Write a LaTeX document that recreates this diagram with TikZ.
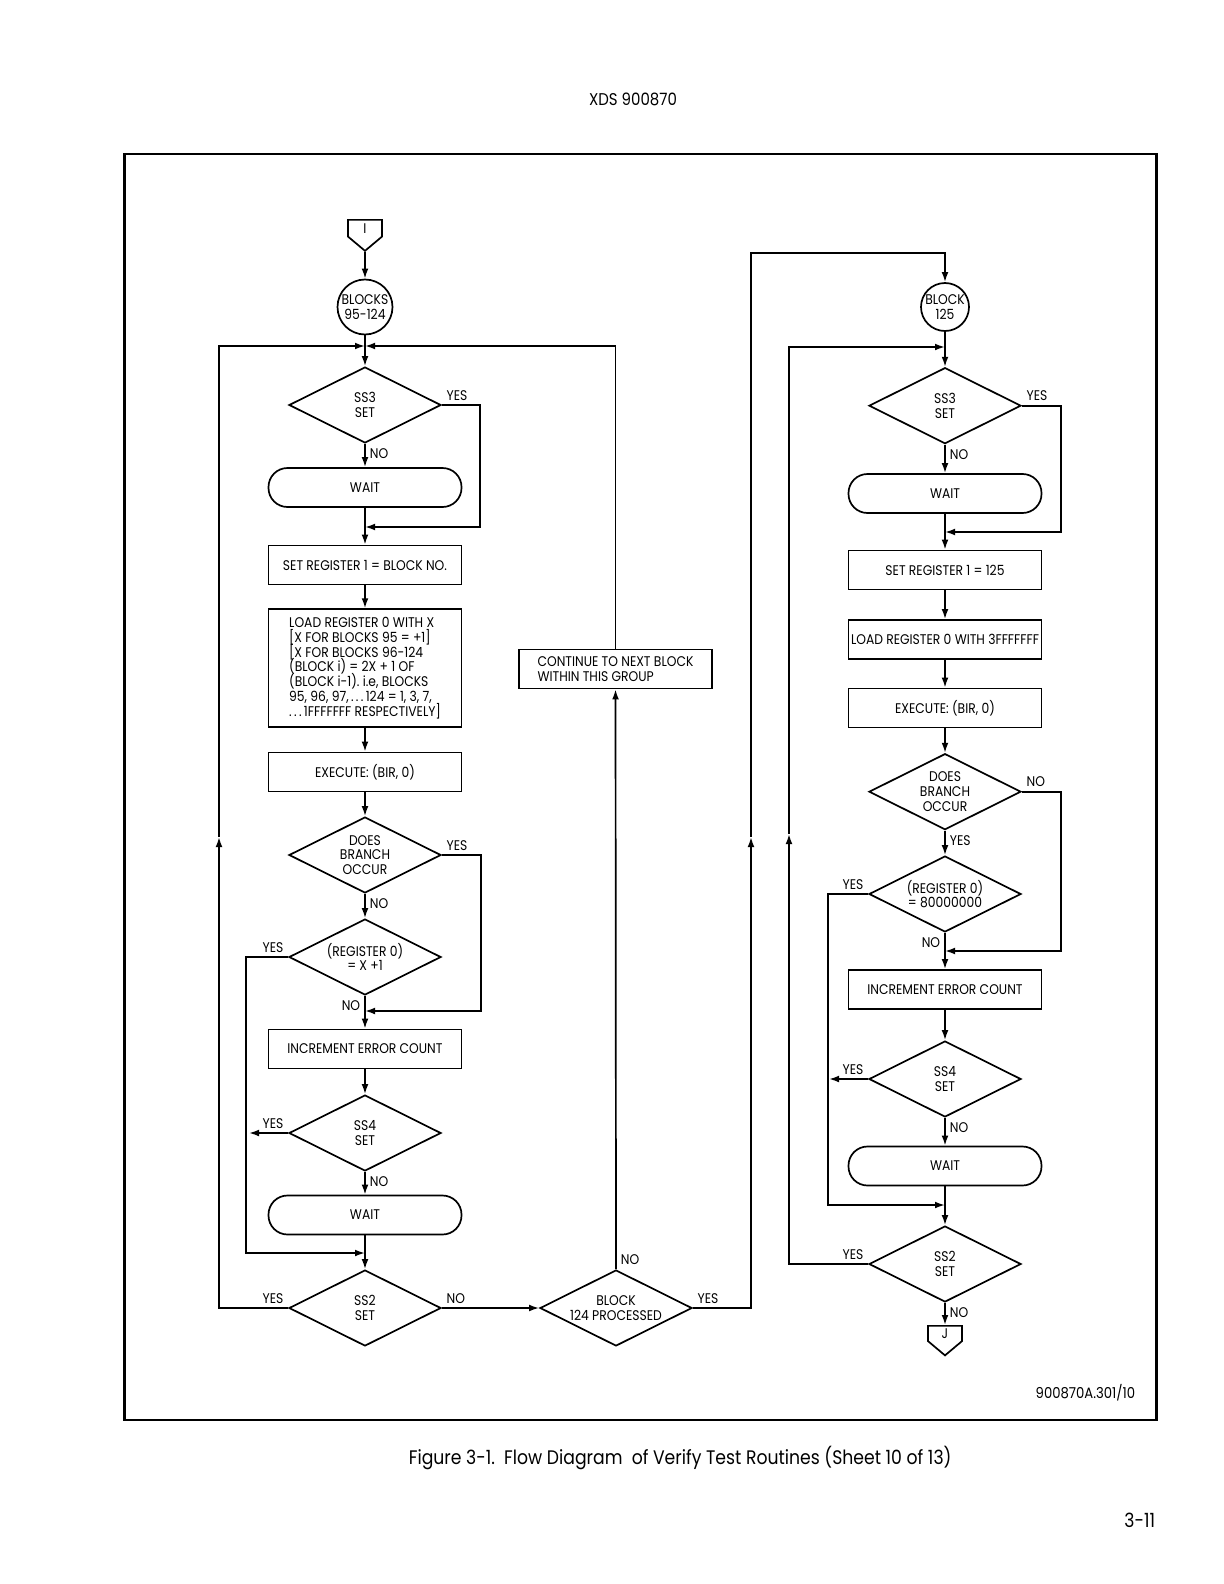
\documentclass[tikz,border=0pt]{standalone}
\usepackage{fontspec}
\setmainfont{Poppins}[FakeStretch=0.88]
\usepackage{tikz}
\usetikzlibrary{positioning,shapes.geometric,shapes.symbols,arrows.meta}

\newcommand{\chartfont}{\fontsize{7}{7.4}\selectfont}
\newcommand{\titlefont}{\fontsize{8.5}{10}\selectfont}
\newcommand{\capfont}{\fontsize{9.8}{11}\selectfont}

\begin{document}
\begin{tikzpicture}[x=0.5pt,y=-0.5pt,line width=0.85pt,
	box/.style={rectangle,draw,minimum width=96.5pt,minimum height=19.5pt,inner sep=3pt,font=\chartfont,align=center},
	wait/.style={rectangle,rounded corners=9.5pt,draw,minimum width=96.5pt,minimum height=19.5pt,font=\chartfont},
	decision/.style={diamond,draw,aspect=2,minimum width=76pt,minimum height=38pt,inner sep=0pt,align=center,font=\chartfont},
	blockno/.style={circle,draw,inner sep=0pt,align=center,font=\chartfont},
	offpage/.style={signal,signal to=south,signal pointer angle=100,draw,minimum width=17pt,minimum height=9pt,inner sep=0pt,anchor=north,font=\chartfont},
	yn/.style={font=\chartfont,inner sep=2pt},
	flow/.style={-{Latex[length=5pt,width=3.4pt]}}]

	\useasboundingbox (0,0) rectangle (1224,1584);
	\fill[white] (0,0) rectangle (1224,1584);

	\node[font=\titlefont] (head) at (633,99) {XDS 900870};
	\draw[line width=1.4pt] (124.5,154) rectangle (1156.5,1420);
	\node[font=\fontsize{7.5}{8}\selectfont,anchor=east,inner sep=0pt] (dwgno) at (1136,1393) {900870A.301/10};
	\node[font=\capfont,anchor=west,inner sep=0pt] (caption) at (408,1458) {Figure 3-1.\ \ Flow Diagram\ \ of Verify Test Routines (Sheet 10 of 13)};
	\node[font=\capfont,anchor=east,inner sep=0pt] (pageno) at (1156,1520) {3-11};

	% blocks 95-124
	\node[offpage] (conI) at (365,219) {I};
	\node[blockno,minimum size=27.5pt] (blk95) at (365,307) {BLOCKS\\95-124};
	\node[decision] (ss3a) at (365,405) {SS3\\SET};
	\node[wait] (wait1a) at (365,487.5) {WAIT};
	\node[box] (setreg1a) at (365,565) {SET REGISTER 1 = BLOCK NO.};
	\node[box,align=left,inner xsep=4pt,inner ysep=4pt,font={\chartfont\lineskiplimit=-5pt}] (load0a) at (365,668) {LOAD REGISTER 0 WITH X\\{}%
		[X FOR BLOCKS 95 = +1]\\{}%
		[X FOR BLOCKS 96-124\\
		(BLOCK i) = 2X + 1 OF\\
		(BLOCK i-1).\ i.e, BLOCKS\\
		95, 96, 97,\,.\,.\,.\,124 = 1, 3, 7,\\
		.\,.\,.\,1FFFFFFF RESPECTIVELY]};
	\node[box] (exec1a) at (365,772) {EXECUTE: (BIR, 0)};
	\node[decision] (brancha) at (365,855) {DOES\\BRANCH\\OCCUR};
	\node[decision] (reg0a) at (365,957) {(REGISTER 0)\\= X +1};
	\node[box] (errcnta) at (365,1049) {INCREMENT ERROR COUNT};
	\node[decision] (ss4a) at (365,1133) {SS4\\SET};
	\node[wait] (wait2a) at (365,1215) {WAIT};
	\node[decision] (ss2a) at (365,1308) {SS2\\SET};
	\node[decision] (blk124) at (616,1308) {BLOCK\\124 PROCESSED};
	\node[box,align=left] (nextblk) at (615.5,669) {CONTINUE TO NEXT BLOCK\\WITHIN THIS GROUP};

	\coordinate (topa) at (365,346);
	\coordinate (mrga) at (365,527);
	\coordinate (mrgb) at (365,1011);
	\coordinate (mrgc) at (365,1253);
	\coordinate (sidea) at (249,1133);
	\coordinate (upa) at (219,837);
	\coordinate (upb) at (751,837);
	\coordinate (topb) at (945,253);

	% block 125
	\node[blockno,minimum size=24pt] (blk125) at (945,307) {BLOCK\\125};
	\node[decision] (ss3b) at (945,405.7) {SS3\\SET};
	\node[wait] (wait1b) at (945,493.5) {WAIT};
	\node[box] (setreg1b) at (945,570) {SET REGISTER 1 = 125};
	\node[box,inner xsep=0.5pt] (load0b) at (945,639.5) {LOAD REGISTER 0 WITH 3FFFFFFF};
	\node[box] (exec1b) at (945,708) {EXECUTE: (BIR, 0)};
	\node[decision] (branchb) at (945,791.7) {DOES\\BRANCH\\OCCUR};
	\node[decision] (reg0b) at (945,894) {(REGISTER 0)\\= 80000000};
	\node[box] (errcntb) at (945,989.5) {INCREMENT ERROR COUNT};
	\node[decision] (ss4b) at (945,1079) {SS4\\SET};
	\node[wait] (wait2b) at (945,1166) {WAIT};
	\node[decision] (ss2b) at (945,1264) {SS2\\SET};
	\node[offpage] (conJ) at (945,1325) {J};

	\coordinate (topc) at (945,347);
	\coordinate (mrgd) at (945,532);
	\coordinate (mrge) at (945,951);
	\coordinate (mrgf) at (945,1205);
	\coordinate (sideb) at (829,1079);
	\coordinate (upc) at (789,834);

	% left column
	\draw[flow] (conI) -- (blk95);
	\draw[flow] (blk95) -- (ss3a);
	\draw[flow] (ss3a.east) node[yn,above right] (y1) {YES} -- ++(38,0) |- (mrga);
	\draw[flow] (ss3a.south) node[yn,below right] (n1) {NO} -- (wait1a);
	\draw[flow] (wait1a) -- (setreg1a);
	\draw[flow] (setreg1a) -- (load0a);
	\draw[flow] (load0a) -- (exec1a);
	\draw[flow] (exec1a) -- (brancha);
	\draw[flow] (brancha.east) node[yn,above right] (y2) {YES} -- ++(39,0) |- (mrgb);
	\draw[flow] (brancha.south) node[yn,below right] (n2) {NO} -- (reg0a);
	\draw[flow] (reg0a.west) node[yn,above left] (y3) {YES} -- ++(-42,0) |- (mrgc);
	\draw[flow] (reg0a.south) node[yn,below left] (n3) {NO} -- (errcnta);
	\draw[flow] (errcnta) -- (ss4a);
	\draw[flow] (ss4a.west) node[yn,above left] (y4) {YES} -- (sidea);
	\draw[flow] (ss4a.south) node[yn,below right] (n4) {NO} -- (wait2a);
	\draw[flow] (wait2a) -- (ss2a);
	\draw[flow] (ss2a.west) node[yn,above left] (y5) {YES} -| (upa);
	\draw[flow] (upa) |- (topa);
	\draw[flow] (ss2a.east) node[yn,above right] (n5) {NO} -- (blk124);
	\draw[flow] (blk124.north) node[yn,above right] (n6) {NO} -- (nextblk);
	\draw[flow] (nextblk.north) |- (topa);
	\draw[flow] (blk124.east) node[yn,above right] (y6) {YES} -| (upb);
	\draw[flow] (upb) |- (topb) -- (blk125);

	% right column
	\draw[flow] (blk125) -- (ss3b);
	\draw[flow] (ss3b.east) node[yn,above right] (y7) {YES} -- ++(39.3,0) |- (mrgd);
	\draw[flow] (ss3b.south) node[yn,below right] (n7) {NO} -- (wait1b);
	\draw[flow] (wait1b) -- (setreg1b);
	\draw[flow] (setreg1b) -- (load0b);
	\draw[flow] (load0b) -- (exec1b);
	\draw[flow] (exec1b) -- (branchb);
	\draw[flow] (branchb.east) node[yn,above right] (n8) {NO} -- ++(39.3,0) |- (mrge);
	\draw[flow] (branchb.south) node[yn,below right] (y8) {YES} -- (reg0b);
	\draw[flow] (reg0b.west) node[yn,above left] (y9) {YES} -- ++(-40,0) |- (mrgf);
	\draw[flow] (reg0b.south) node[yn,below left] (n9) {NO} -- (errcntb);
	\draw[flow] (errcntb) -- (ss4b);
	\draw[flow] (ss4b.west) node[yn,above left] (y10) {YES} -- (sideb);
	\draw[flow] (ss4b.south) node[yn,below right] (n10) {NO} -- (wait2b);
	\draw[flow] (wait2b) -- (ss2b);
	\draw[flow] (ss2b.west) node[yn,above left] (y11) {YES} -| (upc);
	\draw[flow] (upc) |- (topc);
	\draw[flow] (ss2b.south) node[yn,below right] (n11) {NO} -- (conJ);

\end{tikzpicture}
\end{document}
